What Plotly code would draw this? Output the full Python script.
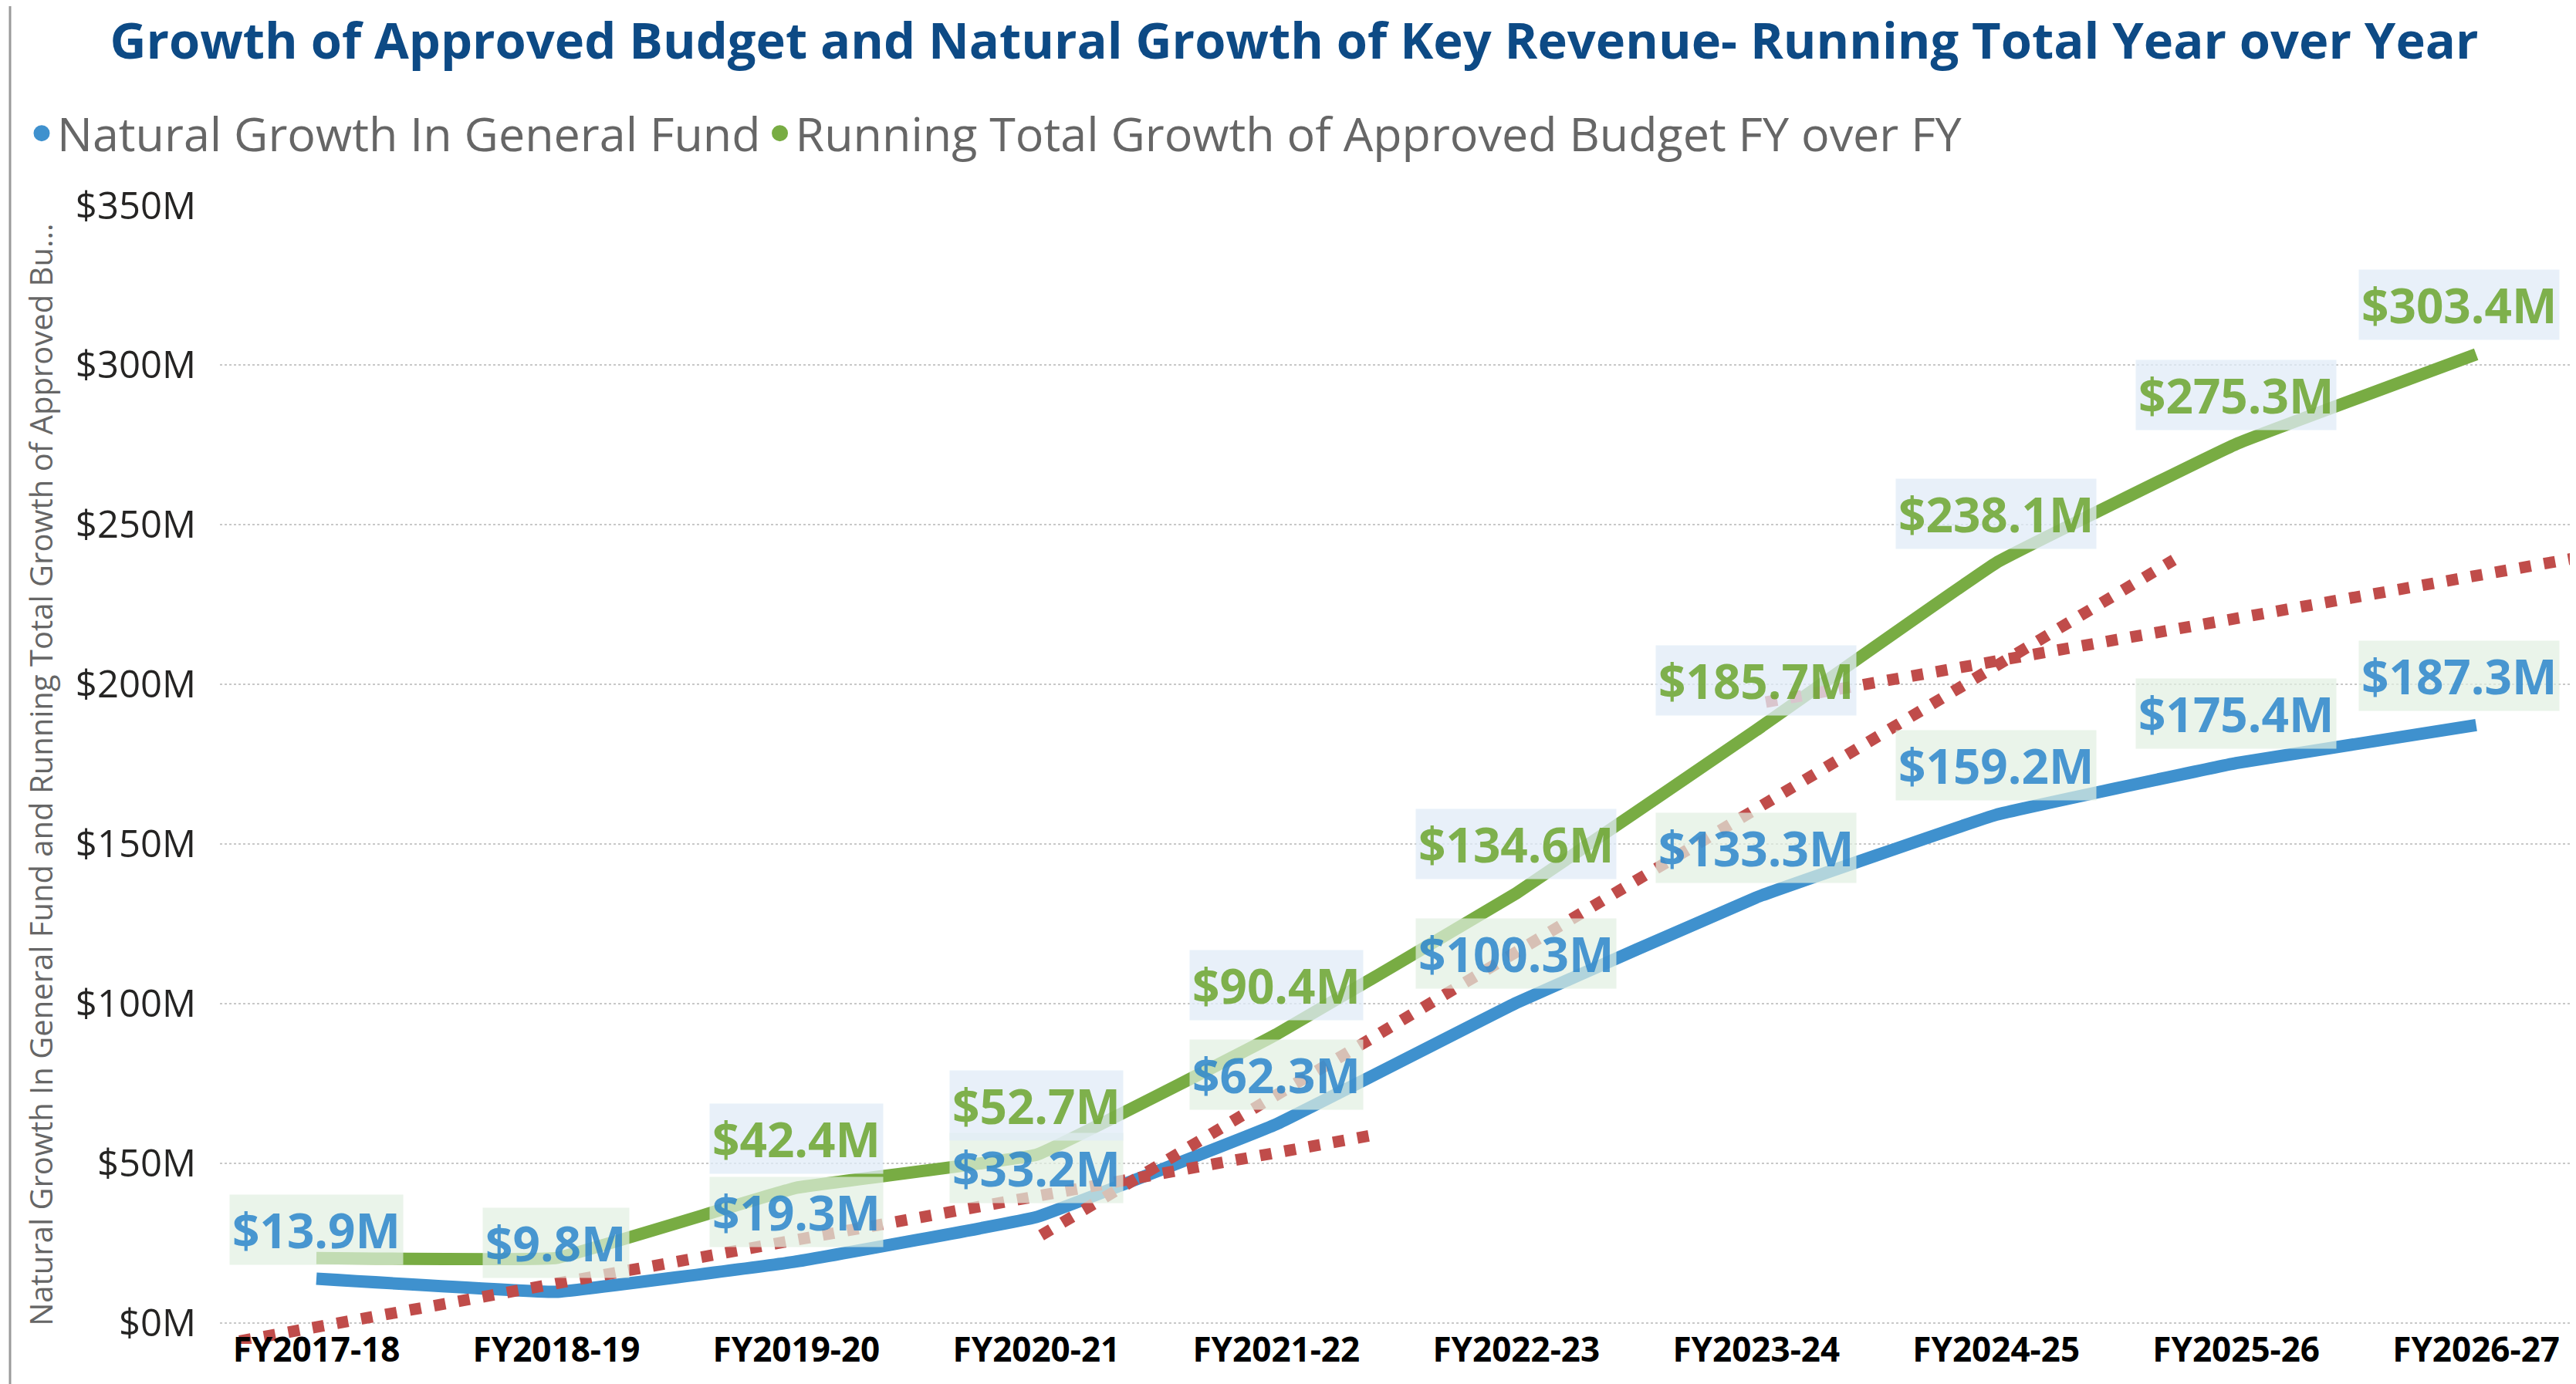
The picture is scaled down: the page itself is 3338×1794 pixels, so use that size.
import plotly.graph_objects as go

# --- Дані ---
fiscal_years = ['FY2017-18', 'FY2018-19', 'FY2019-20', 'FY2020-21', 'FY2021-22',
                'FY2022-23', 'FY2023-24', 'FY2024-25', 'FY2025-26', 'FY2026-27']
natural_growth = [13.9, 9.8, 19.3, 33.2, 62.3, 100.3, 133.3, 159.2, 175.4, 187.3]
running_total = [20.4, 20.4, 42.4, 52.7, 90.4, 134.6, 185.7, 238.1, 275.3, 303.4]
running_label_shown = [False, False, True, True, True, True, True, True, True, True]

# червоні пунктирні лінії тренду (позиція по осі x у номерах категорій)
trend_a_x = [-0.32, 4.39]
trend_a_y = [-5.6, 58.7]
trend_b_x = [3.02, 7.74]
trend_b_y = [27.5, 239.0]
trend_c_x = [6.04, 9.40]
trend_c_y = [194.5, 239.4]

y_ticks = [0, 50, 100, 150, 200, 250, 300, 350]

BLUE = '#3F91CE'
GREEN = '#78AC43'
RED = '#C04C4A'
FONT = 'Open Sans'

# розміри полотна та області графіка (px)
W, H = 3338, 1794
PLOT_L, PLOT_R = 277, 3325

x_pos = list(range(len(fiscal_years)))

fig = go.Figure()

fig.add_trace(go.Scatter(x=x_pos, y=natural_growth, mode='lines', showlegend=False,
                         line=dict(color=BLUE, width=16, shape='spline', smoothing=0.2)))
fig.add_trace(go.Scatter(x=x_pos, y=running_total, mode='lines', showlegend=False,
                         line=dict(color=GREEN, width=16, shape='spline', smoothing=0.2)))

for tx, ty in [(trend_a_x, trend_a_y), (trend_b_x, trend_b_y), (trend_c_x, trend_c_y)]:
    fig.add_trace(go.Scatter(x=tx, y=ty, mode='lines', showlegend=False,
                             line=dict(color=RED, width=15, dash='15px,17px')))

# легенда з крапками
fig.add_trace(go.Scatter(x=[None], y=[None], mode='markers', name='Natural Growth In General Fund',
                         marker=dict(color=BLUE, size=16, line=dict(color=BLUE, width=5))))
fig.add_trace(go.Scatter(x=[None], y=[None], mode='markers',
                         name='Running Total Growth of Approved Budget FY over FY',
                         marker=dict(color=GREEN, size=16, line=dict(color=GREEN, width=5))))

# підписи значень
def add_labels(values, color, bg, shown=None):
    for i, v in enumerate(values):
        if shown is not None and not shown[i]:
            continue
        fig.add_annotation(x=i, y=v, text=f'<b>${v:.1f}M</b>', showarrow=False,
                           yshift=64, xshift=-22 if i == len(values) - 1 else 0,
                           font=dict(family=FONT, size=62, color=color),
                           bgcolor=bg, borderpad=3, opacity=0.95)

add_labels(natural_growth, BLUE, 'rgba(226,240,226,0.75)')
add_labels(running_total, GREEN, 'rgba(225,236,248,0.8)', running_label_shown)

# рамка візуалу (ліва та права межі)
plot_w = PLOT_R - PLOT_L
for px in (5, 3333):
    xp = (px - PLOT_L) / plot_w
    fig.add_shape(type='line', xref='paper', yref='paper', x0=xp, x1=xp, y0=-0.2, y1=1.3,
                  line=dict(color='#9A9A9A', width=3))

fig.update_layout(
    width=W, height=H,
    margin=dict(l=PLOT_L, r=W - PLOT_R, t=257, b=60),
    plot_bgcolor='white', paper_bgcolor='white',
    title=dict(text='<b>Growth of Approved Budget and Natural Growth of Key Revenue- Running Total Year over Year</b>',
               x=0.5, xref='container', xanchor='center',
               y=1 - 45 / H, yref='container', yanchor='middle',
               font=dict(family=FONT, size=65, color='#0D4A85')),
    legend=dict(orientation='h', xref='container', yref='container',
                x=26 / W, xanchor='left', y=1 - 165 / H, yanchor='middle',
                font=dict(family=FONT, size=61, color='#666666'),
                itemwidth=30, tracegroupgap=0),
)

fig.update_xaxes(range=[-0.402, 9.40], tickmode='array', tickvals=x_pos, ticktext=fiscal_years,
                 showgrid=False, zeroline=False, showline=False, ticks='',
                 tickfont=dict(family=FONT, size=44, color='#000000', weight='bold'),
                 ticklabelstandoff=-22)
fig.update_yaxes(range=[-6.5, 350], tickmode='array', tickvals=y_ticks,
                 ticktext=[f'${v}M' for v in y_ticks],
                 showgrid=True, gridcolor='#C8C8C8', gridwidth=2, griddash='dot',
                 zeroline=False, showline=False, ticks='',
                 tickfont=dict(family=FONT, size=49, color='#252423'),
                 ticklabelstandoff=30,
                 title=dict(text='Natural Growth In General Fund and Running Total Growth of Approved Bu...',
                            font=dict(family=FONT, size=40, color='#666666'), standoff=16))

fig.write_html('out.html')
